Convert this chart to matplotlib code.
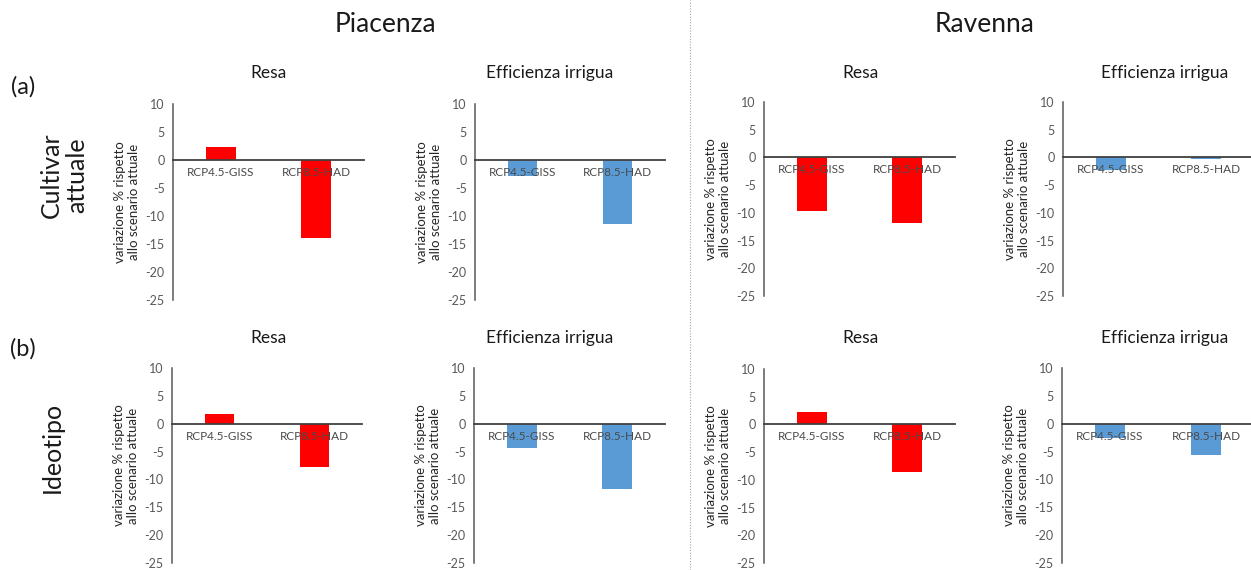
import matplotlib
matplotlib.use("Agg")
import matplotlib.pyplot as plt
from matplotlib.lines import Line2D

plt.rcParams['font.family'] = ['Lato', 'DejaVu Sans']

W, H = 1251, 570

categories = ["RCP4.5-GISS", "RCP8.5-HAD"]
y_ticks = [-25, -20, -15, -10, -5, 0, 5, 10]

# variazione % rispetto allo scenario attuale
piacenza_resa_a = [2.3, -14.0]
piacenza_eff_a = [-2.8, -11.5]
ravenna_resa_a = [-9.6, -11.8]
ravenna_eff_a = [-2.2, -0.3]
piacenza_resa_b = [1.7, -7.8]
piacenza_eff_b = [-4.3, -11.7]
ravenna_resa_b = [2.3, -8.6]
ravenna_eff_b = [-2.6, -5.6]

RED = '#FF0000'
BLUE = '#5B9BD5'
GREY = '#595959'


def px_axes(fig, x0, x1, ytop, ybot):
    return fig.add_axes([x0 / W, 1 - ybot / H, (x1 - x0) / W, (ybot - ytop) / H])


def draw_panel(fig, box, values, color):
    ax = px_axes(fig, *box)
    ax.bar(range(len(categories)), values, width=0.31, color=color, zorder=0.5)
    ax.set_xlim(-0.5, len(categories) - 0.5)
    ax.set_ylim(-25, 10)
    ax.set_yticks(y_ticks)
    ax.set_yticklabels([str(t) for t in y_ticks])
    ax.set_xticks(range(len(categories)))
    ax.set_xticklabels(categories)
    for s in ['top', 'right']:
        ax.spines[s].set_visible(False)
    ax.spines['bottom'].set_position(('data', 0))
    ax.spines['bottom'].set_color('#404040')
    ax.spines['bottom'].set_linewidth(1.3)
    ax.spines['left'].set_color(GREY)
    ax.spines['left'].set_linewidth(1.1)
    ax.tick_params(axis='both', length=0)
    ax.tick_params(axis='y', pad=6, labelsize=9, labelcolor=GREY)
    ax.tick_params(axis='x', pad=5, labelsize=8.5, labelcolor='#4a4a4a')
    ax.set_ylabel("variazione % rispetto\nallo scenario attuale",
                  fontsize=9.5, color='#262626', labelpad=4, linespacing=1.15)
    ax.patch.set_alpha(0)
    return ax


fig = plt.figure(figsize=(W / 100, H / 100), dpi=100)

# pixel boxes: x_left, x_right, y(10), y(-25)
draw_panel(fig, (173, 364, 104, 300), piacenza_resa_a, RED)
draw_panel(fig, (475, 665, 104, 300), piacenza_eff_a, BLUE)
draw_panel(fig, (764, 955, 102, 296), ravenna_resa_a, RED)
draw_panel(fig, (1063, 1254, 102, 296), ravenna_eff_a, BLUE)
draw_panel(fig, (172, 362, 368, 563), piacenza_resa_b, RED)
draw_panel(fig, (474, 665, 368, 563), piacenza_eff_b, BLUE)
draw_panel(fig, (764, 955, 369, 563), ravenna_resa_b, RED)
draw_panel(fig, (1062, 1254, 368, 563), ravenna_eff_b, BLUE)


def ftext(x, y, s, **kw):
    fig.text(x / W, 1 - y / H, s, ha='center', va='center', color='#1a1a1a', **kw)


ftext(385, 25, "Piacenza", fontsize=19)
ftext(985, 25, "Ravenna", fontsize=19)
ftext(23, 87, "(a)", fontsize=17)
ftext(23, 349, "(b)", fontsize=17)
ftext(64, 175, "Cultivar\nattuale", fontsize=18, rotation=90, linespacing=1.1)
ftext(52, 447, "Ideotipo", fontsize=18, rotation=90)

for yy in (73, 338):
    ftext(268, yy, "Resa", fontsize=12.5)
    ftext(550, yy, "Efficienza irrigua", fontsize=12.5)
    ftext(860, yy, "Resa", fontsize=12.5)
    ftext(1165, yy, "Efficienza irrigua", fontsize=12.5)

fig.add_artist(Line2D([690 / W, 690 / W], [0, 1], transform=fig.transFigure,
                      color='#a6a6a6', lw=0.8, ls=(0, (1, 1.5))))

fig.savefig("out.png", dpi=100, facecolor='white')
